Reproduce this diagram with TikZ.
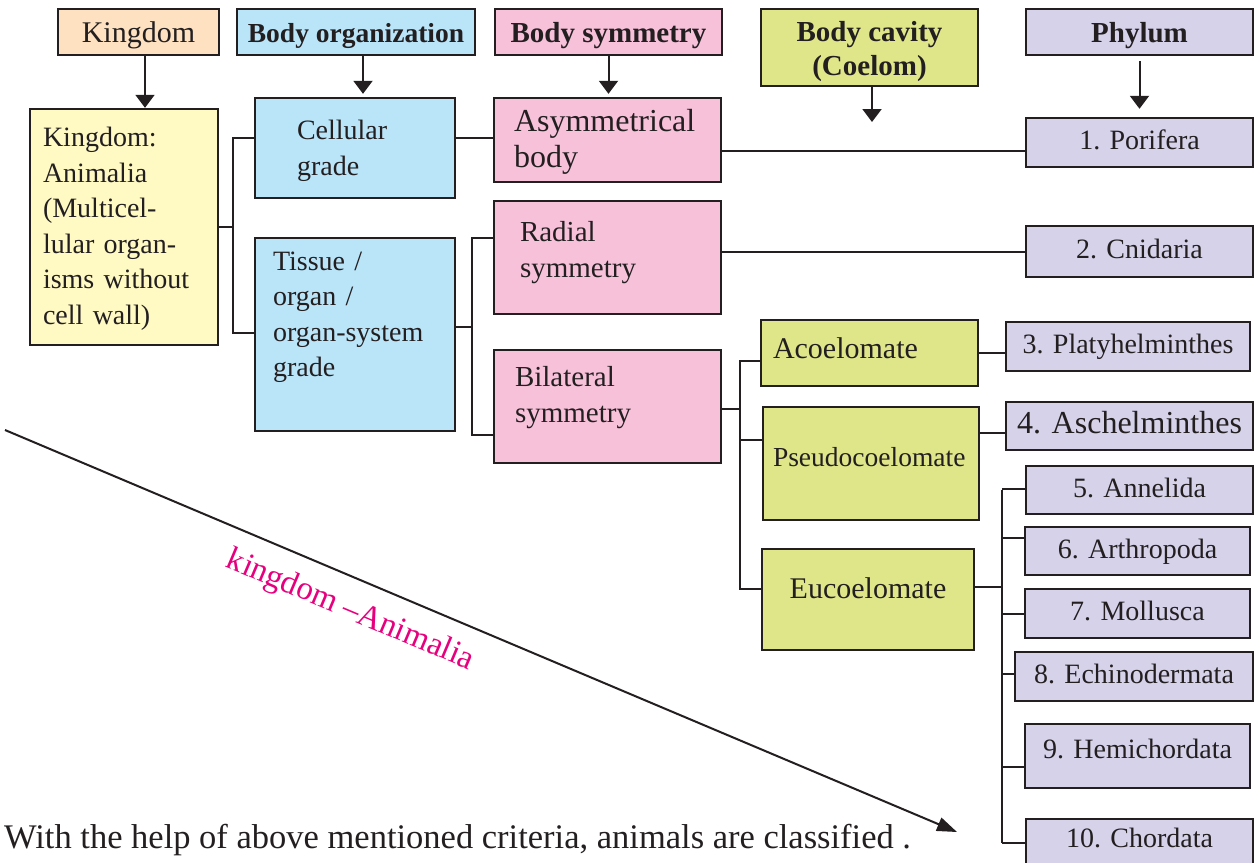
\documentclass[tikz,border=0pt]{standalone}
\usepackage{fontspec}
\setmainfont{Liberation Serif}
\usetikzlibrary{arrows.meta,calc}
\definecolor{peach}{RGB}{253,225,193}
\definecolor{skyblue}{RGB}{186,229,249}
\definecolor{rosepink}{RGB}{247,193,218}
\definecolor{limegreen}{RGB}{223,230,138}
\definecolor{lavender}{RGB}{213,210,234}
\definecolor{paleyellow}{RGB}{255,249,196}
\definecolor{inkline}{RGB}{35,31,32}
\definecolor{pinkink}{RGB}{230,0,126}
\tikzstyle{basebox} = [draw=inkline, line width=2.4pt, rectangle, inner sep=0pt, text=inkline]
\tikzstyle{headbox} = [basebox, font=\bfseries\fontsize{29}{34}\selectfont, align=center, text height=22pt, text depth=2pt]
\tikzstyle{leftbox} = [basebox, align=left, font=\fontsize{28}{35.5}\selectfont, text height=20pt]
\tikzstyle{phylbox} = [basebox, fill=lavender, font=\fontsize{28}{34}\selectfont, text height=20pt, text depth=6pt]
\tikzstyle{conn} = [draw=inkline, line width=2pt]
\tikzstyle{downarrow} = [conn, -{Triangle[length=13pt,width=19pt]}]

\begin{document}
\begin{tikzpicture}[x=1pt,y=-1pt]
\useasboundingbox (0,0) rectangle (1257,862);
% criteria headers
\node[headbox, fill=peach, font=\fontsize{30}{35}\selectfont, minimum width=161pt, minimum height=46pt] (hkingdom) at (138.5,32) {Kingdom};
\node[headbox, fill=skyblue, font=\bfseries\fontsize{27.5}{34}\selectfont, minimum width=238pt, minimum height=46pt] (horgan) at (356,32) {Body organization};
\node[headbox, fill=rosepink, minimum width=227pt, minimum height=46pt] (hsymm) at (608.5,32) {Body symmetry};
\node[headbox, fill=limegreen, minimum width=217pt, minimum height=77pt, text height=55pt, text depth=0pt] (hcavity) at (869.5,47.5) {Body cavity\\(Coelom)};
\node[headbox, fill=lavender, minimum width=227pt, minimum height=46pt] (hphylum) at (1139.5,32) {Phylum};

% kingdom and body organization
\node[leftbox, fill=paleyellow, minimum width=188pt, minimum height=236pt, inner xsep=13pt, text width=162pt, text depth=181pt] (animalia) at (124,227) {Kingdom:\\Animalia\\(Multicel-\\lular organ-\\isms without\\cell wall)};
\node[leftbox, fill=skyblue, minimum width=200pt, minimum height=100pt, inner xsep=42pt, text width=116pt, text depth=37pt] (cellular) at (355,148) {Cellular\\grade};
\node[leftbox, fill=skyblue, minimum width=200pt, minimum height=193pt, inner xsep=18pt, text width=164pt, text depth=149pt] (tissue) at (355,334.5) {Tissue /\\organ /\\organ-system\\grade};

% body symmetry
\node[leftbox, fill=rosepink, font=\fontsize{32}{36}\selectfont, minimum width=227pt, minimum height=84pt, inner xsep=20pt, text width=187pt, text height=22pt, text depth=39pt] (asymm) at (607.5,140) {Asymmetrical\\body};
\node[leftbox, fill=rosepink, font=\fontsize{29}{35.5}\selectfont, minimum width=227pt, minimum height=113pt, inner xsep=26pt, text width=175pt, text depth=52pt] (radial) at (607.5,257.5) {Radial\\symmetry};
\node[leftbox, fill=rosepink, font=\fontsize{29}{35.5}\selectfont, minimum width=227pt, minimum height=113pt, inner xsep=21pt, text width=185pt, text depth=60pt] (bilateral) at (607.5,406.5) {Bilateral\\symmetry};

% body cavity
\node[leftbox, fill=limegreen, font=\fontsize{30}{35}\selectfont, minimum width=217pt, minimum height=66pt, inner xsep=12pt, text width=193pt, text depth=10pt] (acoel) at (869.5,353) {Acoelomate};
\node[leftbox, fill=limegreen, font=\fontsize{27.5}{35}\selectfont, minimum width=216pt, minimum height=113pt, inner xsep=10pt, text width=196pt, text depth=15pt] (pseudo) at (871,463.5) {Pseudocoelomate};
\node[basebox, fill=limegreen, font=\fontsize{30}{35}\selectfont, minimum width=212pt, minimum height=101pt, text height=20pt, text depth=23pt] (eucoel) at (868,599.5) {Eucoelomate};

% phyla
\node[phylbox, minimum width=227pt, minimum height=49pt] (porifera) at (1139.5,142.5) {1. Porifera};
\node[phylbox, minimum width=227pt, minimum height=51pt] (cnidaria) at (1139.5,251.5) {2. Cnidaria};
\node[phylbox, minimum width=244pt, minimum height=49pt] (platy) at (1128,346.5) {3. Platyhelminthes};
\node[phylbox, font=\fontsize{32}{36}\selectfont, minimum width=247pt, minimum height=48pt] (aschel) at (1129.5,426) {4. Aschelminthes};
\node[phylbox, minimum width=227pt, minimum height=48pt] (annelida) at (1139.5,490) {5. Annelida};
\node[phylbox, minimum width=225pt, minimum height=48pt] (arthro) at (1137.5,551) {6. Arthropoda};
\node[phylbox, minimum width=225pt, minimum height=49pt] (mollusca) at (1137.5,613.5) {7. Mollusca};
\node[phylbox, minimum width=238pt, minimum height=49pt] (echino) at (1134,676.5) {8. Echinodermata};
\node[phylbox, minimum width=225pt, minimum height=64pt, text depth=16pt] (hemi) at (1137.5,756) {9. Hemichordata};
\node[phylbox, minimum width=227pt, minimum height=47pt, text depth=10pt] (chordata) at (1139.5,842.5) {10. Chordata};

% header arrows
\draw[downarrow] ([xshift=6.5pt]hkingdom.south) -- ([xshift=6.5pt]hkingdom.south |- animalia.north);
\draw[downarrow] ([xshift=7pt]horgan.south) -- ([xshift=7pt,yshift=3pt]horgan.south |- cellular.north);
\draw[downarrow] (hsymm.south) -- ([yshift=3pt]hsymm.south |- asymm.north);
\coordinate (cavend) at (872,122);
\draw[downarrow] (hcavity.south -| cavend) -- (cavend);
\draw[downarrow, shorten <=5pt, shorten >=8pt] (hphylum.south) -- (hphylum.south |- porifera.north);

% kingdom bracket
\draw[conn] (animalia.east) -- ++(14,0) coordinate (kbr);
\draw[conn] ([yshift=10pt]cellular.west) -| (kbr) |- ([yshift=1.5pt]tissue.west);
\draw[conn] ([yshift=10pt]cellular.east) -- ([yshift=10pt]cellular.east -| asymm.west);

% organ grade bracket
\draw[conn] ([yshift=7.5pt]tissue.east) -- ++(16,0) coordinate (tbr);
\draw[conn] ([yshift=19.5pt]radial.west) -| (tbr) |- ([yshift=-28.5pt]bilateral.west);
\draw[conn] ([yshift=-11pt]asymm.east) -- ([yshift=-11pt]asymm.east -| porifera.west);
\draw[conn] ([yshift=5.5pt]radial.east) -- ([yshift=5.5pt]radial.east -| cnidaria.west);

% bilateral bracket
\draw[conn] ([yshift=-2.5pt]bilateral.east) -- ++(18,0) coordinate (bbr);
\draw[conn] ([yshift=-8pt]acoel.west) -| (bbr) |- ([yshift=10.5pt]eucoel.west);
\draw[conn] ([yshift=23.5pt]pseudo.west) -- ([yshift=23.5pt]pseudo.west -| bbr);
\draw[conn] (acoel.east) -- (acoel.east -| platy.west);
\draw[conn] ([yshift=30.5pt]pseudo.east) -- ([yshift=30.5pt]pseudo.east -| aschel.west);

% eucoelomate bracket
\draw[conn] ([yshift=12.5pt]eucoel.east) -- ++(27,0) coordinate (ebr);
\draw[conn] (ebr |- annelida.west) -- (ebr |- chordata.west);
\foreach \p/\s in {annelida/1,arthro/13,mollusca/0,echino/3,hemi/-11,chordata/0}
  \draw[conn] ([yshift=\s pt]\p.west) -- ([yshift=\s pt]\p.west -| ebr);

% diagonal
\coordinate (dstart) at (5,430);
\coordinate (dend) at (957,832);
\draw[conn, -{Triangle[length=20pt,width=14pt]}] (dstart) -- (dend);
\node[text=pinkink, font=\fontsize{33}{36}\selectfont, rotate=-22.9] (klabel) at (350,611) {kingdom --Animalia};
\node[anchor=base west, text=inkline, font=\fontsize{34.5}{40}\selectfont, inner sep=0pt] (note) at (4,848) {With the help of above mentioned criteria, animals are classified .};
\end{tikzpicture}
\end{document}
